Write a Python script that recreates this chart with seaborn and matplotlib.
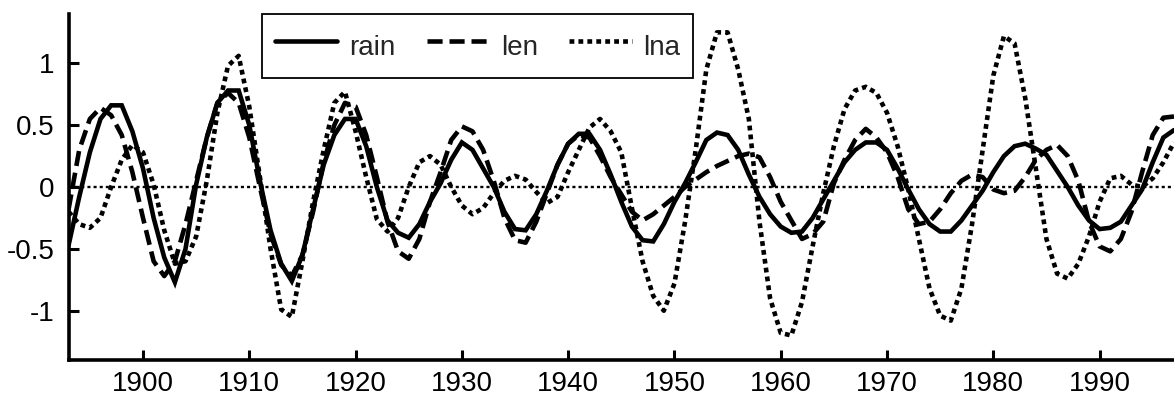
import numpy as np
import pandas as pd
import matplotlib
matplotlib.use("Agg")
import matplotlib.pyplot as plt
import seaborn as sns

years = list(range(1893, 1998))

rain = [-0.47, -0.08, 0.28, 0.55, 0.66, 0.66, 0.45, 0.15, -0.25, -0.57,
        -0.77, -0.50, 0.02, 0.40, 0.68, 0.78, 0.78, 0.50, 0.05, -0.35,
        -0.62, -0.76, -0.55, -0.18, 0.18, 0.42, 0.55, 0.55, 0.33, 0.00,
        -0.27, -0.37, -0.41, -0.30, -0.12, 0.03, 0.22, 0.36, 0.30, 0.15,
        0.00, -0.20, -0.34, -0.35, -0.22, -0.03, 0.18, 0.35, 0.43, 0.43,
        0.30, 0.10, -0.12, -0.32, -0.43, -0.44, -0.30, -0.12, 0.03, 0.20,
        0.38, 0.44, 0.42, 0.30, 0.10, -0.08, -0.22, -0.32, -0.37, -0.36,
        -0.25, -0.10, 0.05, 0.20, 0.30, 0.36, 0.36, 0.30, 0.15, -0.02,
        -0.18, -0.30, -0.36, -0.36, -0.27, -0.15, -0.03, 0.12, 0.25, 0.33,
        0.35, 0.31, 0.26, 0.13, 0.00, -0.15, -0.27, -0.34, -0.33, -0.28,
        -0.15, -0.02, 0.20, 0.40, 0.46]

len_ = [-0.18, 0.30, 0.55, 0.64, 0.58, 0.42, 0.12, -0.25, -0.60, -0.72,
        -0.60, -0.30, 0.05, 0.40, 0.68, 0.76, 0.68, 0.40, 0.00, -0.38,
        -0.63, -0.72, -0.55, -0.20, 0.20, 0.50, 0.68, 0.65, 0.42, 0.08,
        -0.28, -0.52, -0.58, -0.42, -0.12, 0.12, 0.38, 0.49, 0.45, 0.30,
        0.05, -0.25, -0.43, -0.45, -0.28, -0.05, 0.18, 0.35, 0.42, 0.40,
        0.25, 0.08, -0.06, -0.20, -0.27, -0.22, -0.15, -0.08, 0.00, 0.06,
        0.12, 0.17, 0.21, 0.25, 0.27, 0.24, 0.08, -0.12, -0.27, -0.42,
        -0.38, -0.28, 0.03, 0.22, 0.38, 0.47, 0.40, 0.28, 0.08, -0.18,
        -0.30, -0.28, -0.18, -0.05, 0.05, 0.10, 0.08, -0.02, -0.05, -0.03,
        0.08, 0.22, 0.30, 0.34, 0.25, 0.05, -0.28, -0.48, -0.52, -0.42,
        -0.20, 0.12, 0.42, 0.56, 0.57]

lna = [-0.20, -0.30, -0.33, -0.25, 0.00, 0.22, 0.34, 0.28, 0.02, -0.35,
       -0.62, -0.60, -0.40, 0.05, 0.60, 0.98, 1.06, 0.65, 0.08, -0.50,
       -0.99, -1.05, -0.60, -0.12, 0.30, 0.68, 0.77, 0.45, 0.08, -0.26,
       -0.36, -0.25, 0.00, 0.20, 0.25, 0.18, 0.00, -0.15, -0.22, -0.17,
       -0.05, 0.05, 0.09, 0.06, -0.04, -0.13, -0.08, 0.12, 0.30, 0.48,
       0.55, 0.45, 0.28, -0.17, -0.60, -0.88, -1.00, -0.78, -0.28, 0.30,
       0.95, 1.25, 1.25, 0.95, 0.55, -0.28, -0.90, -1.18, -1.20, -0.93,
       -0.48, -0.05, 0.33, 0.63, 0.78, 0.81, 0.76, 0.60, 0.33, -0.02,
       -0.42, -0.82, -1.04, -1.08, -0.82, -0.30, 0.30, 0.90, 1.22, 1.16,
       0.72, 0.15, -0.42, -0.70, -0.74, -0.62, -0.40, -0.12, 0.07, 0.09,
       0.02, 0.00, 0.07, 0.20, 0.36]

series_names = ["rain", "len", "lna"]
xticks = [1900, 1910, 1920, 1930, 1940, 1950, 1960, 1970, 1980, 1990]
yticks = [-1, -0.5, 0, 0.5, 1]
ytick_labels = ["-1", "-0.5", "0", "0.5", "1"]

df = pd.DataFrame({
    "year": years * 3,
    "value": rain + len_ + lna,
    "series": ["rain"] * len(years) + ["len"] * len(years) + ["lna"] * len(years),
})

sns.set_theme(style="white")
plt.rcParams["font.family"] = ["Liberation Sans", "DejaVu Sans"]
plt.rcParams["axes.unicode_minus"] = False

W, H = 1174, 398
fig = plt.figure(figsize=(W / 100, H / 100), dpi=100)
ax = fig.add_axes([68.6 / W, (H - 360.2) / H, (W - 68.6) / W, (360.2 - 13.8) / H])

LW = 3.3
ax.axhline(0, color="black", lw=1.7, dashes=(1.3, 1.3), dash_capstyle="butt", zorder=1)

sns.lineplot(data=df, x="year", y="value", style="series", style_order=series_names,
             dashes={"rain": "", "len": (3.3, 1.5), "lna": (1.05, 0.9)},
             color="black", linewidth=LW, ax=ax, legend=False, estimator=None,
             sort=False)
for ln in ax.get_lines()[1:]:
    ln.set_dash_capstyle("butt")
    ln.set_solid_joinstyle("miter")

ax.set_xlim(1893, 1997)
ax.set_ylim(-1.4, 1.4)
ax.set_xticks(xticks)
ax.set_xticklabels([str(t) for t in xticks])
ax.set_yticks(yticks)
ax.set_yticklabels(ytick_labels)
ax.set_xlabel("")
ax.set_ylabel("")
for s in ["top", "right"]:
    ax.spines[s].set_visible(False)
for s in ["left", "bottom"]:
    ax.spines[s].set_linewidth(2.6)
    ax.spines[s].set_color("black")
ax.tick_params(axis="both", direction="in", length=7, width=2.2, colors="black",
               labelsize=20, pad=7)
ax.tick_params(axis="x", bottom=True, pad=8)
ax.tick_params(axis="y", left=True, pad=10)

handles = ax.get_lines()[1:4]
leg = fig.legend(handles, series_names, loc="upper left",
                 bbox_to_anchor=(262 / W, 1 - 14 / H), bbox_transform=fig.transFigure,
                 ncol=3, frameon=True, fancybox=False, shadow=False, fontsize=20,
                 handlelength=2.25, handleheight=1.75, handletextpad=0.43,
                 columnspacing=1.12, borderpad=0.46, borderaxespad=0)
leg.get_frame().set_edgecolor("black")
leg.get_frame().set_linewidth(1.3)
leg.get_frame().set_facecolor("white")
leg.get_frame().set_alpha(1)

fig.savefig("out.png", dpi=100)
